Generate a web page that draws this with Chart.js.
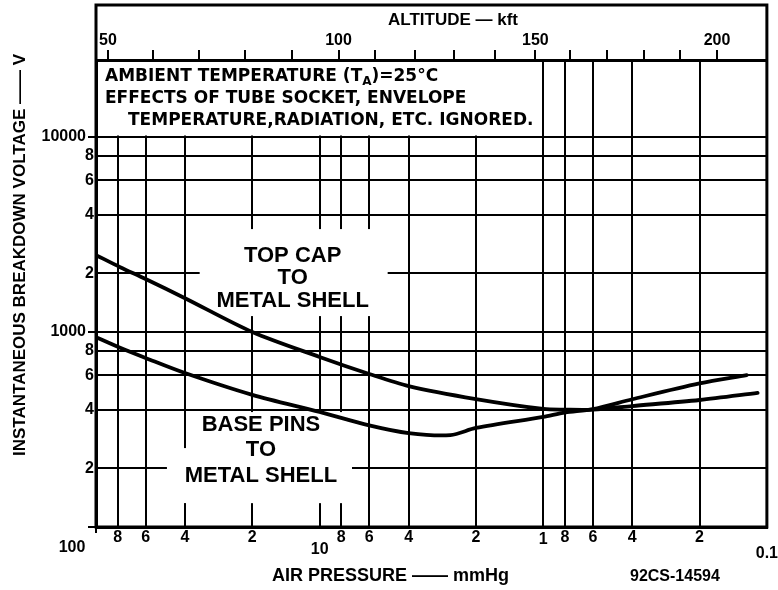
<!DOCTYPE html>
<html><head><meta charset="utf-8">
<script src="https://cdn.jsdelivr.net/npm/chart.js@4.4.1/dist/chart.umd.min.js"></script>
<style>html,body{margin:0;padding:0;background:#fff;} canvas{display:block;}</style>
</head><body>
<canvas id="c" width="778" height="590"></canvas>
<script>
// ---------------- data ----------------
const topCapPressure   = [100, 78, 60, 40, 20, 10, 6, 4, 2, 1, 0.8, 0.6, 0.4, 0.2, 0.11];
const topCapVoltage    = [2480, 2150, 1870, 1490, 1000, 745, 609, 528, 453, 403, 400, 400, 417, 448, 487];
const basePinsPressure = [100, 78, 60, 40, 20, 10, 6, 4, 2.6, 2, 1, 0.8, 0.6, 0.4, 0.2, 0.123];
const basePinsVoltage  = [941, 830, 736, 616, 476, 389, 332, 303, 296, 322, 367, 386, 402, 452, 545, 601];

const pressureTicks      = [100, 80, 60, 40, 20, 10, 8, 6, 4, 2, 1, 0.8, 0.6, 0.4, 0.2, 0.1];
const pressureTickLabels = ['100', '8', '6', '4', '2', '10', '8', '6', '4', '2', '1', '8', '6', '4', '2', '0.1'];
const voltageTicks       = [100, 200, 400, 600, 800, 1000, 2000, 4000, 6000, 8000, 10000];
const voltageTickLabels  = ['', '2', '4', '6', '8', '1000', '2', '4', '6', '8', '10000'];
const altitudeKft        = [50, 60, 70, 80, 90, 100, 110, 120, 130, 140, 150, 160, 170, 180, 190, 200];
const altitudePressure   = [88.4, 55.7, 34.7, 21.6, 13.3, 8.23, 5.68, 3.73, 2.50, 1.65, 1.085, 0.758, 0.518, 0.354, 0.2445, 0.167];
const altitudeLabeled    = [50, 100, 150, 200];

const noteLines = ['AMBIENT TEMPERATURE (T', 'A', ')=25\u00B0C', 'EFFECTS OF TUBE SOCKET, ENVELOPE', 'TEMPERATURE,RADIATION, ETC. IGNORED.'];
const topCapLabel   = ['TOP CAP', 'TO', 'METAL SHELL'];
const basePinsLabel = ['BASE PINS', 'TO', 'METAL SHELL'];

// ---------------- styles / layout ----------------
const F1 = '"Liberation Sans", Arial, sans-serif';
const F2 = '"DejaVu Sans", sans-serif';
const BLACK = '#000';
const CLEAR = 'rgba(0,0,0,0)';
const decadeLineHeight = {'100': 30, '10': 34, '1': 14, '0.1': 42};
const labelPad = {'100': '\u2003\u2003\u2003'};
const curveLabelStyle = [
  {lines: topCapLabel, p: 13.2, v: 1890, spacing: 22.5, mask: [[-93, -49, 188, 87]]},
  {lines: basePinsLabel, p: 18.3, v: 248, spacing: 25.5, mask: [[-71, -38, 162, 91], [-94, -2, 185, 55]]}
];
const noteBox = {pRight: 1, vBottom: 10000};

Chart.defaults.color = BLACK;
Chart.defaults.font.family = F1;
Chart.defaults.font.weight = 'bold';

function pts(px, vy) { return px.map((p, i) => ({x: p, y: vy[i]})); }

const deco = {
  id: 'deco',
  beforeDraw(chart) {
    const c = chart.ctx; c.save(); c.fillStyle = '#fff'; c.fillRect(0, 0, chart.width, chart.height); c.restore();
  },
  beforeDatasetsDraw(chart) {
    const {ctx, chartArea: a} = chart; const x = chart.scales.x, y = chart.scales.y;
    ctx.save(); ctx.fillStyle = '#fff';
    const bx = x.getPixelForValue(noteBox.pRight), by = y.getPixelForValue(noteBox.vBottom);
    ctx.fillRect(a.left + 2, a.top + 2, bx - 1.5 - (a.left + 2), by - 1.5 - (a.top + 2));
    for (const L of curveLabelStyle) {
      const cx = x.getPixelForValue(L.p), cy = y.getPixelForValue(L.v);
      for (const r of L.mask) ctx.fillRect(cx + r[0], cy + r[1], r[2], r[3]);
    }
    ctx.restore();
  },
  afterDatasetsDraw(chart) {
    const {ctx} = chart; const x = chart.scales.x, y = chart.scales.y;
    ctx.save(); ctx.fillStyle = BLACK; ctx.textAlign = 'center'; ctx.textBaseline = 'middle';
    ctx.font = 'bold 22px ' + F1;
    for (const L of curveLabelStyle) {
      const cx = x.getPixelForValue(L.p), cy = y.getPixelForValue(L.v);
      L.lines.forEach((t, i) => ctx.fillText(t, cx, cy + (i - 1) * L.spacing));
    }
    ctx.restore();
  },
  afterDraw(chart) {
    const {ctx, chartArea: a} = chart;
    ctx.save();
    ctx.fillStyle = BLACK; ctx.strokeStyle = BLACK; ctx.textBaseline = 'middle'; ctx.textAlign = 'left';
    ctx.font = 'bold 17px ' + F2;
    let tx = a.left + 9, ty = a.top + 17;
    ctx.fillText(noteLines[0], tx, ty);
    tx += ctx.measureText(noteLines[0]).width;
    ctx.font = 'bold 12px ' + F2; ctx.fillText(noteLines[1], tx, ty + 5);
    tx += ctx.measureText(noteLines[1]).width;
    ctx.font = 'bold 17px ' + F2; ctx.fillText(noteLines[2], tx, ty);
    ctx.fillText(noteLines[3], a.left + 9, a.top + 39);
    ctx.fillText(noteLines[4], a.left + 32, a.top + 61);
    ctx.font = 'bold 17px ' + F1;
    ctx.fillText('ALTITUDE \u2014 kft', 388, 20);
    ctx.font = 'bold 18px ' + F1;
    ctx.fillText('AIR PRESSURE \u2014\u2014 mmHg', 272, 576);
    ctx.font = 'bold 16px ' + F1;
    ctx.fillText('92CS-14594', 630, 577);
    ctx.save();
    ctx.translate(20, 255); ctx.rotate(-Math.PI / 2); ctx.textAlign = 'center';
    ctx.font = 'bold 17px ' + F1;
    ctx.fillText('INSTANTANEOUS BREAKDOWN VOLTAGE \u2014\u2014 V', 0, 0);
    ctx.restore();
    ctx.lineWidth = 3;
    ctx.strokeRect(a.left, 5, a.right - a.left, a.bottom - 5);
    ctx.restore();
  }
};

const line = {borderColor: BLACK, borderWidth: 3.8, pointRadius: 0, fill: false, tension: 0.3,
              borderCapStyle: 'round', borderJoinStyle: 'round'};

new Chart(document.getElementById('c'), {
  type: 'line',
  data: {datasets: [
    Object.assign({label: 'TOP CAP TO METAL SHELL', data: pts(topCapPressure, topCapVoltage)}, line),
    Object.assign({label: 'BASE PINS TO METAL SHELL', data: pts(basePinsPressure, basePinsVoltage)}, line)
  ]},
  options: {
    responsive: false, animation: false, devicePixelRatio: 1,
    layout: {padding: {top: 5, right: 10, left: 0, bottom: 0}},
    plugins: {legend: {display: false}, tooltip: {enabled: false}},
    scales: {
      x: {
        type: 'logarithmic', position: 'bottom', reverse: true, min: 0.1, max: 100,
        afterBuildTicks: s => { s.ticks = pressureTicks.map(v => ({value: v})); },
        afterFit: s => { s.height = 63; },
        grid: {color: BLACK, lineWidth: 2, tickLength: 6, tickWidth: 2,
               tickColor: c => (c.tick && c.tick.value === 100) ? BLACK : CLEAR},
        border: {color: BLACK, width: 3},
        ticks: {
          autoSkip: false, maxRotation: 0, padding: 0, color: BLACK,
          callback: (v, i) => pressureTickLabels[i] + (labelPad[pressureTickLabels[i]] || ''),
          font: c => {
            const i = pressureTicks.indexOf(c.tick ? c.tick.value : -1);
            const lab = pressureTickLabels[i];
            return {family: F1, size: 16, weight: 'bold', lineHeight: (decadeLineHeight[lab] || 9) + 'px'};
          }
        }
      },
      x2: {
        type: 'logarithmic', position: 'top', reverse: true, min: 0.1, max: 100,
        afterBuildTicks: s => { s.ticks = altitudePressure.map(v => ({value: v})); },
        afterFit: s => { s.height = 55; },
        grid: {drawOnChartArea: false, color: BLACK, lineWidth: 2, tickLength: 10, tickWidth: 2},
        border: {color: BLACK, width: 3},
        ticks: {
          autoSkip: false, maxRotation: 0, padding: 0, color: BLACK,
          font: {family: F1, size: 16, weight: 'bold', lineHeight: '18px'},
          callback: (v, i) => altitudeLabeled.includes(altitudeKft[i]) ? String(altitudeKft[i]) : ''
        }
      },
      y: {
        type: 'logarithmic', position: 'left', min: 100, max: 24820,
        afterBuildTicks: s => { s.ticks = voltageTicks.map(v => ({value: v})); },
        afterFit: s => { s.width = 96; },
        grid: {color: BLACK, lineWidth: 2, tickLength: 8, tickWidth: 2,
               tickColor: c => (c.tick && [100, 1000, 10000].includes(c.tick.value)) ? BLACK : CLEAR},
        border: {color: BLACK, width: 3},
        ticks: {
          autoSkip: false, padding: -6, color: BLACK,
          font: {family: F1, size: 16, weight: 'bold'},
          callback: (v, i) => voltageTickLabels[i].length > 1 ? voltageTickLabels[i] + '\u2002' : voltageTickLabels[i]
        }
      }
    }
  },
  plugins: [deco]
});
</script>
</body></html>
